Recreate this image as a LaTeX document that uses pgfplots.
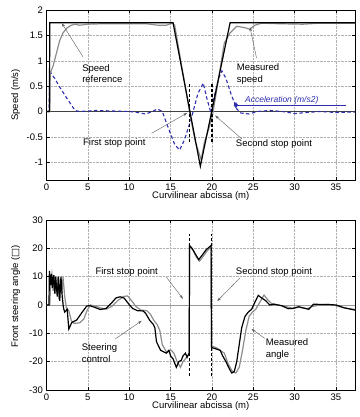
\documentclass[border=0pt]{standalone}
\usepackage{fontspec}
\setmainfont{Liberation Sans}
\newfontfamily\dejavu{DejaVu Sans}
\usepackage{pgfplots}
\pgfplotsset{compat=1.18}
\usetikzlibrary{arrows.meta}
\definecolor{accblue}{RGB}{45,45,175}
\definecolor{measgray}{RGB}{140,140,140}
\pgfplotsset{
  myaxis/.style={
    scale only axis, width=308.5pt, height=170pt,
    xmin=0, xmax=37.3, xtick={0,5,10,15,20,25,30,35},
    grid=major, grid style={densely dotted, gray!60, line width=0.4pt},
    axis line style={line width=0.5pt},
    tick style={line width=0.4pt, black}, major tick length=3pt,
    /pgf/number format/assume math mode=true,
    tick label style={font=\fontsize{9.5}{11}\selectfont},
    label style={font=\fontsize{9.5}{11}\selectfont},
    xlabel style={at={(axis description cs:0.5,0)}, anchor=center, yshift=-16.5pt},
    ylabel style={at={(axis description cs:-0.1,0.5)}, anchor=center},
    xlabel={Curvilinear abcissa (m)},
  },
}
\tikzset{
  ann/.style={font=\fontsize{9.5}{11.5}\selectfont, align=left, inner sep=0pt},
  arr/.style={-{Stealth[length=4pt,width=2.6pt]}, black!65, line width=0.4pt},
}
\begin{document}
\begin{tikzpicture}
\useasboundingbox (0,0) rectangle (359pt,417pt);
% ---------------- top ----------------
\begin{axis}[myaxis, at={(46.5pt,237pt)}, anchor=south west,
  ymin=-1.35, ymax=2, ytick={-1,-0.5,0,0.5,1,1.5,2},
  ylabel={Speed (m/s)}]
\addplot[black!75, line width=0.8pt] coordinates {(0,0) (37.3,0)};
\addplot[accblue, line width=1.1pt, dash pattern=on 3.5pt off 2.5pt] coordinates {
(0,0) (0.3,0) (0.4,0.79) (1,0.65) (1.6,0.48) (2.5,0.25) (3.0,0.13) (3.45,0.02) (4,0) (6,0.02) (8,0.01) (10,0.0) (11,-0.02) (12,-0.05) (12.8,0.0) (13.4,0.05) (14,0.0) (14.9,-0.4) (15.5,-0.65) (16.1,-0.76) (16.7,-0.55) (17.5,-0.14) (18.3,0.35) (18.95,0.56) (19.4,0.25) (19.8,0.02) (20.3,0.3) (20.8,0.65) (21.2,0.8) (21.7,0.65) (22.3,0.35) (23,0.05) (23.5,-0.03) (24.5,-0.05) (25.5,0.0) (27,0.02) (28.5,0) (30,-0.04) (31.5,-0.02) (33,0.0) (35,-0.02) (37.3,-0.01)};
\addplot[measgray, line width=1.2pt] coordinates {
(0,0) (0.4,0) (0.45,0.75) (0.8,0.9) (1.2,1.15) (1.6,1.4) (2.0,1.55) (2.5,1.65) (3.0,1.7) (3.5,1.72) (4,1.7) (5,1.72) (7,1.73) (10,1.73) (12,1.73) (13.5,1.7) (14.5,1.7) (15.2,1.74) (15.5,1.7) (17.4,-0.1) (18.0,-0.6) (18.7,-0.95) (19.1,-0.6) (19.7,-0.3) (20.1,-0.05) (21.5,1.35) (22.2,1.55) (23,1.68) (24,1.65) (24.6,1.62) (25.2,1.7) (26,1.74) (28,1.73) (31,1.72) (33,1.74) (37.3,1.74)};
\addplot[black, line width=1.2pt] coordinates {
(0,0) (0.35,0) (0.4,1.75) (15.3,1.75) (18.6,-1.08) (22.2,1.75) (37.3,1.75)};
\addplot[black, line width=1.3pt, dash pattern=on 3pt off 2pt] coordinates {(17.3,-0.6) (17.3,0.57)};
\addplot[black, line width=1.3pt, dash pattern=on 3pt off 2pt] coordinates {(20.0,-0.6) (20.0,0.57)};
% acceleration legend
\addplot[accblue, line width=0.4pt] coordinates {(22.9,0.125) (36.2,0.125)};
\addplot[accblue, only marks, mark=diamond*, mark size=2.6pt] coordinates {(22.9,0.125)};
\node[anchor=west, inner sep=0pt, text=accblue, font=\fontsize{8.5}{10}\selectfont\itshape] at (axis cs:24.0,0.23) {Acceleration (m/s2)};
% annotations
\node[ann, anchor=west] at (axis cs:4.3,0.745) {Speed\\reference};
\draw[arr] (axis cs:4.4,1.08) -- (axis cs:1.85,1.74);
\node[ann, anchor=west] at (axis cs:23.0,0.735) {Measured\\speed};
\draw[arr] (axis cs:25.4,1.05) -- (axis cs:24.6,1.66);
\node[ann] at (axis cs:8.2,-0.63) {First stop point};
\draw[arr] (axis cs:12.7,-0.43) -- (axis cs:17.0,-0.03);
\node[ann] at (axis cs:27.5,-0.65) {Second stop point};
\draw[arr] (axis cs:23.6,-0.54) -- (axis cs:20.4,-0.08);
\end{axis}
% ---------------- bottom ----------------
\begin{axis}[myaxis, at={(46.5pt,27pt)}, anchor=south west,
  ymin=-30, ymax=30, ytick={-30,-20,-10,0,10,20,30},
  ylabel style={at={(axis description cs:-0.1,0.55)}},
  ylabel={Front steering angle ({\dejavu □})}]
\addplot[gray!80, line width=0.8pt] coordinates {(0,0) (37.3,0)};
\addplot[measgray, line width=1.2pt] coordinates {
(0,0) (0.4,0) (0.5,8) (0.65,11) (0.8,5) (0.95,10.5) (1.1,4) (1.3,10) (1.5,2) (1.7,9.5) (1.85,4) (2.0,9.8) (2.2,3) (2.4,-1) (2.7,-2) (3.0,-5.5) (3.3,-6.5) (4.0,-6.3) (4.5,-5) (4.9,-2) (5.3,0) (5.8,-0.3) (6.5,-1) (7.2,-1.5) (7.9,-0.5) (8.6,1.5) (9.3,3) (9.8,3.2) (10.3,1.5) (10.8,-0.5) (11.4,-1.8) (12.1,-2) (12.5,-3) (13.0,-5.5) (13.4,-7) (13.7,-9) (14.0,-14) (14.5,-16.5) (15.1,-16) (15.4,-17) (15.8,-20) (16.2,-22) (16.5,-20) (16.8,-19) (17.0,-18) (17.25,-17.5) (17.3,20.5) (17.7,19.5) (18.1,17) (18.5,15.5) (18.9,17) (19.4,19) (19.9,20.5) (19.95,-14.5) (20.5,-15) (21.0,-16) (21.5,-17) (22.0,-21) (22.5,-23.5) (22.9,-24) (23.3,-22) (23.7,-16) (24.1,-9) (24.5,-4) (24.9,-2.5) (25.3,-1.5) (25.8,1) (26.3,3.5) (26.7,2) (27.2,0.5) (28,0) (29,-0.6) (29.8,-1.2) (30.5,-0.8) (31.5,-1.3) (32.2,-0.5) (33,0) (34,0.2) (35,-0.2) (36,-1) (37.3,-1.6)};
\addplot[black, line width=1.2pt] coordinates {
(0,0) (0.3,0) (0.35,12) (0.5,7) (0.6,11) (0.7,6) (0.85,10.5) (1.0,4) (1.1,10) (1.3,3) (1.45,10) (1.6,1.5) (1.75,10) (1.9,3) (2.05,-1) (2.2,-2.5) (2.5,-1.5) (2.7,-8.5) (3.05,-6.2) (3.65,-5.3) (4.25,-2.8) (4.86,-0.4) (5.2,-0.2) (5.8,-0.8) (6.5,-1.6) (7.2,-1.2) (7.8,0.5) (8.4,2.5) (8.9,2.9) (9.4,2.4) (9.9,0.5) (10.4,-1.2) (11.0,-2.0) (11.7,-2.1) (12.0,-3) (12.5,-5.5) (12.9,-6.8) (13.1,-8) (13.3,-13) (13.8,-16) (14.5,-17) (14.8,-16) (15.0,-18) (15.3,-19) (15.7,-22) (16.0,-20) (16.3,-19.5) (16.5,-18) (16.8,-17) (17.0,-18.5) (17.25,-17) (17.3,21) (17.6,20) (18.0,18) (18.4,16) (18.8,17.5) (19.3,19.5) (19.9,21) (19.95,-15) (20.5,-15.5) (21.0,-16) (21.3,-18) (21.7,-20) (22.1,-22.5) (22.4,-24) (22.7,-23.5) (23.0,-20) (23.3,-14) (23.6,-8) (24.0,-4) (24.4,-2.5) (24.8,-1.5) (25.2,1) (25.6,3.4) (26.0,2.5) (26.5,1.5) (27,0) (27.5,0.3) (28,0.0) (28.5,-0.3) (29.2,-1.3) (29.8,-1.2) (30.5,-0.6) (31,-1.0) (31.7,-1.5) (32.3,0.3) (33,0.2) (34,0.2) (35,0) (36,-1) (37.3,-1.8)};
\addplot[black, line width=1.3pt, dash pattern=on 3pt off 2pt] coordinates {(17.3,-25) (17.3,25)};
\addplot[black, line width=1.3pt, dash pattern=on 3pt off 2pt] coordinates {(19.95,-25) (19.95,25)};
\node[ann] at (axis cs:9.7,11.7) {First stop point};
\draw[arr] (axis cs:14.5,9.8) -- (axis cs:16.5,2.2);
\node[ann] at (axis cs:27.5,11.7) {Second stop point};
\draw[arr] (axis cs:23.4,9.6) -- (axis cs:20.65,1.4);
\node[ann, anchor=west] at (axis cs:4.25,-17.0) {Steering\\control};
\draw[arr] (axis cs:8.3,-12) -- (axis cs:11.5,-5.6);
\node[ann, anchor=west] at (axis cs:26.5,-15.5) {Measured\\angle};
\draw[arr] (axis cs:26.4,-11.8) -- (axis cs:24.8,-8.5);
\end{axis}
\end{tikzpicture}
\end{document}
